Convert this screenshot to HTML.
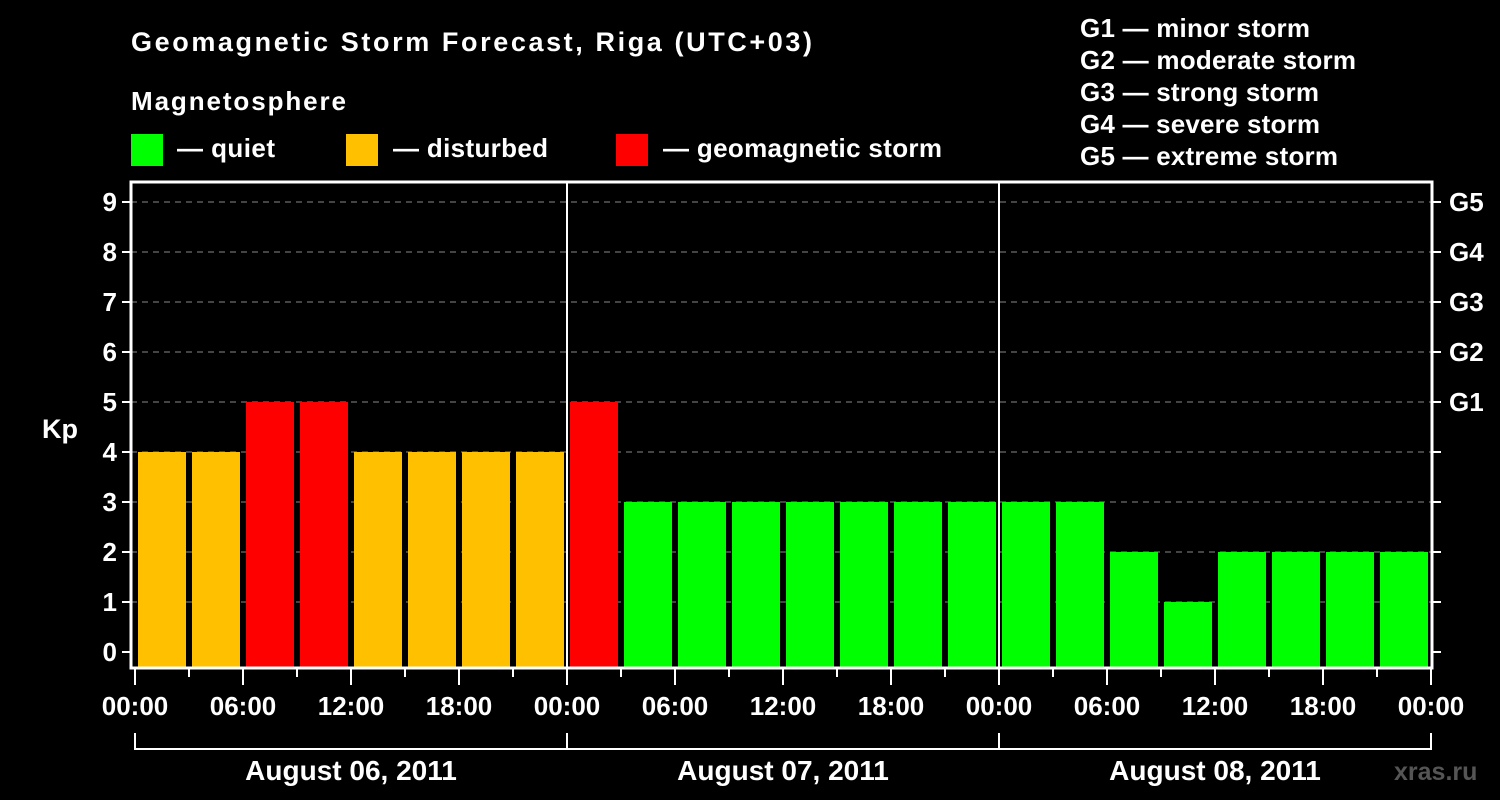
<!DOCTYPE html>
<html><head><meta charset="utf-8"><style>
body{margin:0;background:#000;}
svg{display:block;font-family:"Liberation Sans",Arial,sans-serif;font-weight:bold;}
</style></head><body>
<svg id="c" width="1500" height="800" viewBox="0 0 1500 800">
<rect width="1500" height="800" fill="#000"/>
<text x="131" y="51" fill="#fff" font-size="27" textLength="681" lengthAdjust="spacing">Geomagnetic Storm Forecast, Riga (UTC+03)</text>
<text x="131" y="110" fill="#fff" font-size="26" textLength="215" lengthAdjust="spacing">Magnetosphere</text>
<g><rect x="131" y="134" width="32" height="32" fill="#00ff00"/><text x="177" y="157" fill="#fff" font-size="26" textLength="98" lengthAdjust="spacing">— quiet</text></g>
<g><rect x="346" y="134" width="32" height="32" fill="#ffc000"/><text x="393" y="157" fill="#fff" font-size="26" textLength="155" lengthAdjust="spacing">— disturbed</text></g>
<g><rect x="616" y="134" width="32" height="32" fill="#ff0000"/><text x="663" y="157" fill="#fff" font-size="26" textLength="279" lengthAdjust="spacing">— geomagnetic storm</text></g>
<g fill="#fff" font-size="26">
<text x="1080" y="37" textLength="230" lengthAdjust="spacing">G1 — minor storm</text>
<text x="1080" y="69" textLength="276" lengthAdjust="spacing">G2 — moderate storm</text>
<text x="1080" y="101" textLength="239" lengthAdjust="spacing">G3 — strong storm</text>
<text x="1080" y="133" textLength="240" lengthAdjust="spacing">G4 — severe storm</text>
<text x="1080" y="165" textLength="258" lengthAdjust="spacing">G5 — extreme storm</text>
</g>
<text x="42" y="438" fill="#fff" font-size="27">Kp</text>
<text x="1394" y="780" fill="#555" font-size="25">xras.ru</text>
<g id="plot"></g>
</svg>
<script>
const kpValues=[4,4,5,5,4,4,4,4, 5,3,3,3,3,3,3,3, 3,3,2,1,2,2,2,2];
const yTicks=[0,1,2,3,4,5,6,7,8,9];
const gLabels=["G1","G2","G3","G4","G5"];
const xTickLabels=["00:00","06:00","12:00","18:00"];
const dayLabels=["August 06, 2011","August 07, 2011","August 08, 2011"];
const NS="http://www.w3.org/2000/svg";
const plotG=document.getElementById('plot');
const X0=135,SLOT=54,PTOP=182,PBOT=668,PLEFT=131,PRIGHT=1432;
const yS=v=>652-50*v;
const xS=i=>X0+SLOT*i;
function mk(t,a,txt){const e=document.createElementNS(NS,t);for(const k in a)e.setAttribute(k,a[k]);if(txt!=null)e.textContent=txt;plotG.appendChild(e);return e;}
function col(v){return v>=5?"#ff0000":v>=4?"#ffc000":"#00ff00";}
yTicks.forEach(v=>{if(v>0){const l=mk('line',{x1:PLEFT,x2:PRIGHT,y1:yS(v),y2:yS(v),stroke:"#888","stroke-dasharray":"6,5","stroke-width":1});

}
const t=mk('line',{x1:PLEFT-9,x2:PLEFT,y1:yS(v),y2:yS(v),stroke:"#fff","stroke-width":2});


const t2=mk('line',{x1:PRIGHT,x2:PRIGHT+9,y1:yS(v),y2:yS(v),stroke:"#fff","stroke-width":2});


const lb=mk('text',{x:PLEFT-14,y:yS(v)+9,fill:"#fff","font-size":26,"text-anchor":"end"},String(v));

});
gLabels.forEach((s,i)=>{const t=mk('text',{x:1449,y:yS(5+i)+9,fill:"#fff","font-size":26},s);

});
kpValues.forEach((v,i)=>{const r=mk('rect',{x:xS(i)+3,y:yS(v),width:48,height:PBOT-yS(v),fill:col(v)});

});
for(let d=1;d<3;d++){const l=mk('line',{x1:xS(d*8),x2:xS(d*8),y1:PTOP,y2:PBOT,stroke:"#fff","stroke-width":2});

}
const fr=mk('rect',{x:PLEFT,y:PTOP,width:PRIGHT-PLEFT,height:PBOT-PTOP,fill:"none",stroke:"#fff","stroke-width":3});


for(let i=0;i<=24;i++){const major=i%2==0;const t=mk('line',{x1:xS(i),x2:xS(i),y1:PBOT,y2:PBOT+(major?17:9),stroke:"#fff","stroke-width":2});


if(major){const lb=mk('text',{x:xS(i),y:715,fill:"#fff","font-size":26,"text-anchor":"middle"},xTickLabels[(i/2)%4]);

}}
const br=mk('path',{d:`M${xS(0)},733V749H${xS(24)}V733M${xS(8)},733V749M${xS(16)},733V749`,stroke:"#fff","stroke-width":2,fill:"none"});


dayLabels.forEach((s,d)=>{const t=mk('text',{x:xS(d*8+4),y:780,fill:"#fff","font-size":28,"text-anchor":"middle"},s);

});
</script>
</body></html>
